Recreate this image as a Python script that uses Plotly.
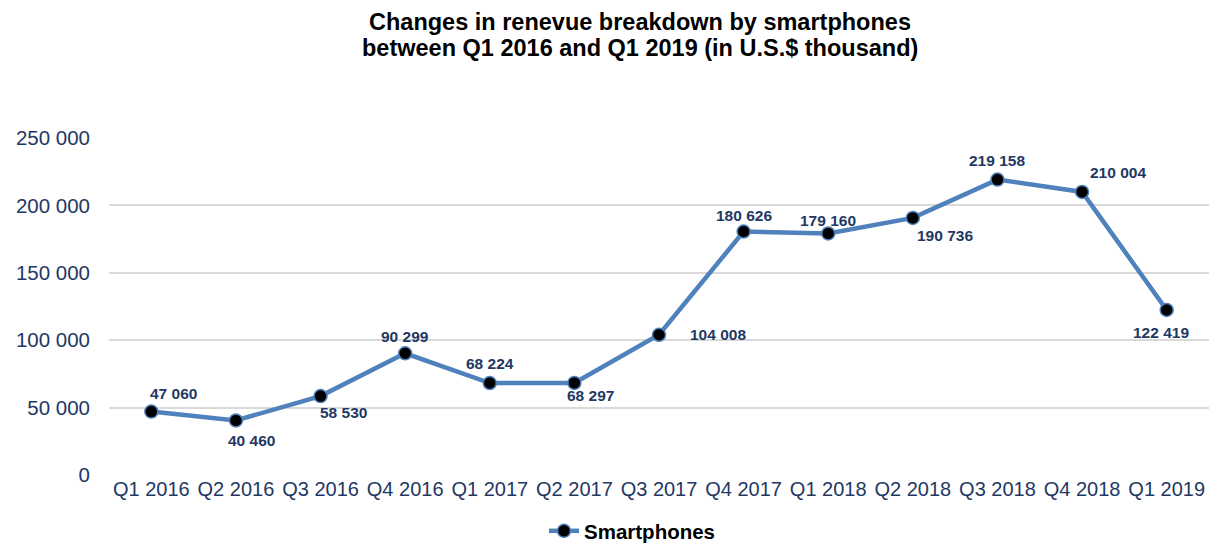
import plotly.graph_objects as go

categories = ["Q1 2016", "Q2 2016", "Q3 2016", "Q4 2016", "Q1 2017", "Q2 2017", "Q3 2017",
              "Q4 2017", "Q1 2018", "Q2 2018", "Q3 2018", "Q4 2018", "Q1 2019"]
smartphones = [47060, 40460, 58530, 90299, 68224, 68297, 104008,
               180626, 179160, 190736, 219158, 210004, 122419]
y_ticks = [0, 50000, 100000, 150000, 200000, 250000]
title_lines = ["Changes in renevue breakdown by smartphones",
               "between Q1 2016 and Q1 2019 (in U.S.$ thousand)"]

# label offsets (style only): (xshift, yshift) in px
label_offsets = [(22, 18), (16, -20), (23, -16), (0, 17), (0, 20), (16, -13), (59, 0),
                 (0, 16), (0, 13), (32, -18), (0, 19), (36, 19), (-6, -23)]

def fmt(v):
    return f"{v:,}".replace(",", " ")

NAVY = "#1F3864"
BLUE = "#4F81BD"
FONT = "Liberation Sans, Arial, sans-serif"

fig = go.Figure()
fig.add_trace(go.Scatter(
    x=categories, y=smartphones, mode="lines+markers", name="<b>Smartphones</b>",
    line=dict(color=BLUE, width=4.5),
    marker=dict(color="black", size=13, line=dict(color=BLUE, width=1.5)),
))

annotations = []
for c, v, (dx, dy) in zip(categories, smartphones, label_offsets):
    annotations.append(dict(
        x=c, y=v, xref="x", yref="y", text=f"<b>{fmt(v)}</b>", showarrow=False,
        xshift=dx, yshift=dy, font=dict(family=FONT, size=15.5, color=NAVY),
    ))

for i, line in enumerate(title_lines):
    py = 22 + 26 * i  # pixel from top
    annotations.append(dict(
        x=(640 - 109) / 1100, xref="paper", xanchor="center",
        y=(475 - py) / 337, yref="paper", yanchor="middle",
        text=f"<b>{line}</b>", showarrow=False,
        font=dict(family=FONT, size=23.5, color="black"),
    ))

fig.update_layout(
    width=1209, height=545,
    margin=dict(l=109, r=0, t=138, b=70),
    paper_bgcolor="white", plot_bgcolor="white",
    font=dict(family=FONT),
    xaxis=dict(
        type="category", range=[-0.5, 12.5], showgrid=False, zeroline=False,
        showline=False, ticks="", tickfont=dict(family=FONT, size=20, color=NAVY),
    ),
    yaxis=dict(
        range=[0, 250000], tickvals=y_ticks, ticktext=[fmt(v) for v in y_ticks],
        showgrid=True, gridcolor="#D9D9D9", gridwidth=1.5, zeroline=False,
        showline=False, ticks="", ticklabelstandoff=18,
        tickfont=dict(family=FONT, size=20.5, color=NAVY),
    ),
    showlegend=True,
    legend=dict(
        orientation="h", x=(632 - 109) / 1100, xanchor="center",
        yref="container", y=14 / 545, yanchor="middle",
        font=dict(family=FONT, size=20.5, color="black"),
    ),
    annotations=annotations,
)

fig.write_html("out.html")
